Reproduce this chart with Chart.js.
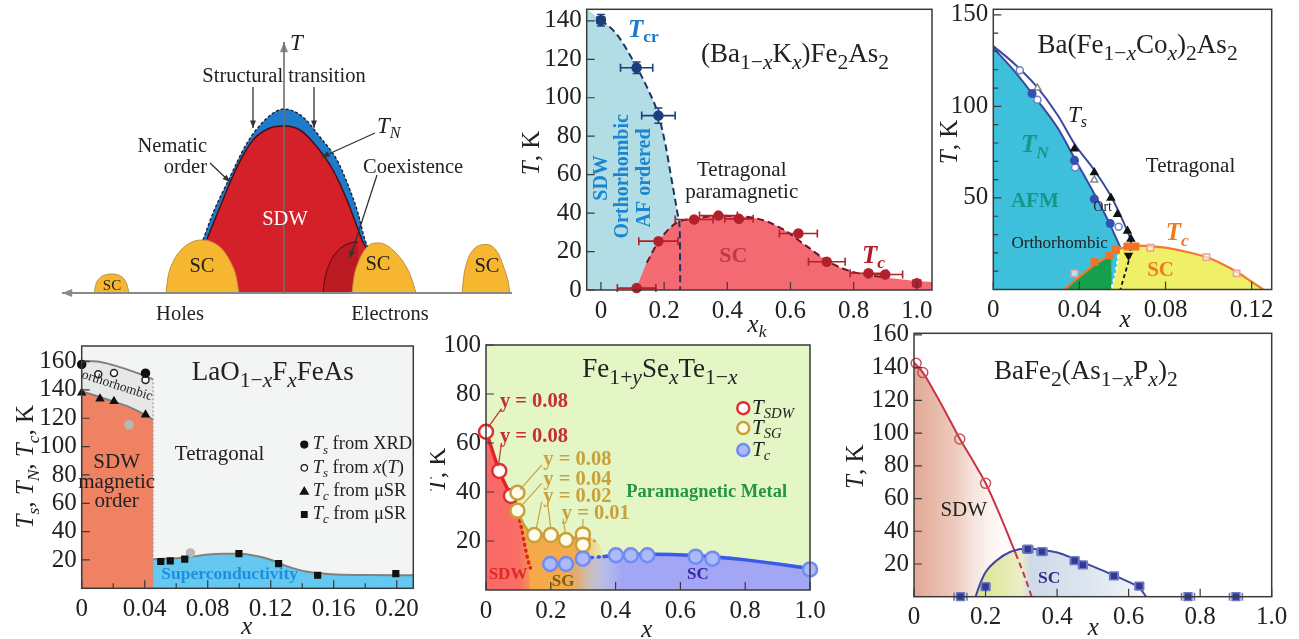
<!DOCTYPE html>
<html>
<head>
<meta charset="utf-8">
<script src="https://cdn.jsdelivr.net/npm/chart.js@4.4.1/dist/chart.umd.min.js"></script>
<style>
  html, body { margin: 0; padding: 0; background: #fff; }
  body { position: relative; width: 1299px; height: 639px; overflow: hidden; }
  canvas { position: absolute; }
</style>
</head>
<body>
<script>
// Iron pnictide phase diagrams - six panels, one Chart.js chart each

// ===== PANEL 1: schematic (x = doping, arbitrary units; y = T, arbitrary) =====
const P1_BLUE = [[-81,53],[-71,80],[-54,116],[-37,150],[-17,175],[0,184],[19,176],[36,156],[53,133],[66,103],[74,80],[81,53],[85,44]];
const P1_RED = [[-77,54],[-64,86],[-47,126],[-31,153],[-14,165],[0,167],[16,163],[33,146],[49,123],[63,93],[71,72],[78,53],[83,44]];
const P1_COEX = [[39,0],[41,15],[45,28],[51,39],[58,46],[66,50],[74,51]];
const P1_SC_A = [[-190,0],[-188,9],[-183,16],[-177,18.5],[-172,19],[-166,18],[-160,14],[-157,8],[-155,0]];
const P1_SC_B = [[-118,0],[-116,16],[-111,31],[-103,43],[-92,51],[-82,53],[-72,51],[-62,44],[-54,32],[-48,17],[-45,0]];
const P1_SC_C = [[68,0],[70,16],[74,30],[80,42],[87,49],[93,50],[100,49],[110,42],[120,30],[127,16],[132,0]];
const P1_SC_D = [[178,0],[180,18],[184,34],[190,44],[197,48],[203,48.5],[209,46],[215,38],[220,25],[224,12],[226,0]];

// ===== PANEL 2: (Ba1-xKx)Fe2As2 =====
const P2_XT = [0, 0.2, 0.4, 0.6, 0.8, 1.0];
const P2_YT = [0, 20, 40, 60, 80, 100, 120, 140];
const P2_TCR = [[0,140.3],[0.113,115.6],[0.182,90.7]];
const P2_TCR_XERR = [0.012, 0.051, 0.053];
const P2_TCR_YERR = [3, 3, 4];
const P2_TC = [[0.113,1],[0.182,25.4],[0.295,36.7],[0.372,38.7],[0.437,37],[0.625,29.4],[0.715,14.7],[0.847,8.7],[0.9,8.1],[1.0,3.5]];
const P2_TC_XERR = [0.061, 0.062, 0.06, 0.06, 0.045, 0.06, 0.058, 0.058, 0.055, 0.012];
const P2_AF = [[-0.045,146],[0,140.5],[0.05,133],[0.113,116],[0.15,104],[0.182,91],[0.205,75],[0.22,61],[0.235,47],[0.245,38],[0.25,28],[0.251,0]];
const P2_SC = [[0.11,0],[0.145,14.2],[0.187,26.3],[0.24,35],[0.295,37],[0.37,38.6],[0.498,37],[0.577,31.5],[0.651,22.8],[0.726,14.2],[0.8,9.3],[0.905,6.4],[1.048,4.1]];

// ===== PANEL 3: Ba(Fe1-xCox)2As2 =====
const P3_XT = [0, 0.04, 0.08, 0.12];
const P3_YT = [50, 100, 150];
const P3_YMINOR = [10, 20, 30, 40, 60, 70, 80, 90, 110, 120, 130, 140];
const P3_TS = [[0,133],[0.01,123],[0.02,111],[0.03,95],[0.038,79],[0.047,65],[0.0546,51],[0.06,38],[0.064,27]];
const P3_TN = [[0,132],[0.01,119],[0.02,104],[0.03,88],[0.038,71],[0.047,52],[0.054,36],[0.059,23]];
const P3_TSD = [[0.064,27],[0.0635,18],[0.061,8],[0.059,0]];
const P3_TC = [[0.033,0],[0.04,7],[0.047,13.5],[0.054,18.5],[0.0585,22],[0.063,23.6],[0.067,24],[0.079,23],[0.09,20.5],[0.099,17.7],[0.107,13.5],[0.113,9.7],[0.119,5],[0.1254,0]];
const P3_GB = [[0.0585,22],[0.057,10],[0.0548,0]];
const P3_TN_FILL = [[0.018,107],[0.0377,70.5],[0.0469,49.4],[0.0543,36]];
const P3_TN_OPEN = [[0.0123,119.7],[0.0205,103.6],[0.038,66.6],[0.0582,34.2]];
const P3_TS_OPEN = [[0.0205,110],[0.0469,59.8]];
const P3_TS_FILL = [[0.0377,76.8],[0.0469,63.9],[0.0546,50],[0.0577,41.1],[0.0623,32],[0.0639,27.6]];
const P3_TS_DOWN = [[0.0628,18.6]];
const P3_TC_FILL = [[0.047,15],[0.054,18.6],[0.057,21.7],[0.0623,23.5],[0.066,23.5]];
const P3_TC_OPEN = [[0.0377,8.8],[0.073,22.8],[0.099,17.7],[0.113,8.8]];

// ===== PANEL 4: LaO1-xFxFeAs =====
const P4_XT = [0, 0.04, 0.08, 0.12, 0.16, 0.20];
const P4_XMINOR = [0.02, 0.06, 0.10, 0.14, 0.18];
const P4_YT = [20, 40, 60, 80, 100, 120, 140, 160];
const P4_TS = [[0,160.5],[0.01,160],[0.02,157.5],[0.03,154],[0.04,150],[0.0453,147.5]];
const P4_TN = [[0,139],[0.01,135.5],[0.02,132],[0.03,128],[0.04,122.5],[0.0453,119]];
const P4_SC = [[0.0453,20.5],[0.0665,21.7],[0.0786,23.7],[0.09,24.4],[0.1,24.3],[0.11,23],[0.119,20.5],[0.1297,15.8],[0.1424,11.8],[0.159,9.9],[0.18,9.4],[0.2105,9.2]];
const P4_EDGE = [[0.0453,0],[0.0453,147.5]];
const P4_XRD = [[0,158],[0.0405,151.8]];
const P4_XT_OPEN = [[0.0105,151],[0.0205,152],[0.0405,147]];
const P4_MUSR_TRI = [[0,138],[0.0116,133.8],[0.0205,132],[0.0405,122.5]];
const P4_GRAY = [[0.030,115.5],[0.069,25]];
const P4_MUSR_SQ = [[0.0502,18.9],[0.0562,19.4],[0.0654,20.6],[0.0998,24.5],[0.125,17.4],[0.1498,9.2],[0.1994,10.4]];

// ===== PANEL 5: Fe1+ySexTe1-x =====
const P5_XT = [0, 0.2, 0.4, 0.6, 0.8, 1.0];
const P5_YT = [20, 40, 60, 80, 100];
const P5_SDW = [[0,64.6],[0.041,48.6],[0.077,38.4]];
const P5_SG = [[0.097,39.7],[0.097,32.4],[0.149,22.4],[0.2,22.4],[0.247,20.4],[0.299,22.7],[0.299,18.4]];
const P5_TC = [[0.198,10.6],[0.247,10.6],[0.299,12.8],[0.401,14.2],[0.447,14.2],[0.498,14.2],[0.647,13.6],[0.699,12.8],[1.0,8.4]];
const P5_SDW_LINE = [[0,65],[0.041,48.6],[0.077,38.4],[0.095,34]];
const P5_SDW_DOT = [[0.095,33],[0.11,25],[0.12,18],[0.13,12],[0.137,9]];
const P5_SG_LINE = [[0.097,32.4],[0.12,26],[0.149,22.4],[0.2,22.4],[0.247,20.6],[0.299,21.5]];
const P5_SG_DOT = [[0.299,21.5],[0.335,20]];
const P5_TC_DOT = [[0.198,10.6],[0.247,10.8],[0.299,12.8],[0.36,13.6]];
const P5_TC_LINE = [[0.36,13.6],[0.401,14.2],[0.5,14.6],[0.65,14],[0.8,12.3],[1.0,8.8]];
const P5_SDW_AREA = [[0,65],[0.041,48.6],[0.077,38.4],[0.095,33],[0.11,25],[0.12,18],[0.13,10],[0.137,0]];
const P5_SG_AREA = [[0.095,36],[0.12,26],[0.149,23.5],[0.2,23.5],[0.25,22],[0.3,22],[0.33,21],[0.36,15],[0.38,0]];
const P5_SC_AREA = [[0.16,9],[0.2,11],[0.3,13],[0.4,14.8],[0.5,15.2],[0.65,14.8],[0.8,13],[1.0,9.5]];

// ===== PANEL 6: BaFe2(As1-xPx)2 =====
const P6_XT = [0, 0.2, 0.4, 0.6, 0.8, 1.0];
const P6_YT = [20, 40, 60, 80, 100, 120, 140, 160];
const P6_SDW = [[0,143],[0.025,137],[0.06,124],[0.1,108],[0.128,96.5],[0.165,83],[0.2,69.5],[0.24,50],[0.284,26.5]];
const P6_SDW_DASH = [[0.284,26.5],[0.31,12],[0.329,0]];
const P6_SC = [[0.172,0],[0.185,8],[0.2,15],[0.23,22],[0.27,27.5],[0.32,29.5],[0.36,28.5],[0.4,27],[0.45,23],[0.5,18.5],[0.56,13],[0.6,9],[0.63,5.5],[0.649,0]];
const P6_CIRC = [[0.006,142.7],[0.0245,137],[0.128,96.4],[0.2,69.3]];
const P6_SQ = [[0.13,0],[0.2,6.1],[0.318,29],[0.358,27.5],[0.449,22],[0.472,19.4],[0.559,12.7],[0.63,6.5],[0.766,0],[0.9,0]];
const P6_SQ_XERR = [0.018, 0.012, 0.014, 0.014, 0.012, 0.012, 0.012, 0.012, 0.018, 0.018];

// ===== HELPERS =====
const SERIF = '"Liberation Serif", "DejaVu Serif", serif';

function xy(a) { return a.map(p => ({ x: p[0], y: p[1] })); }
function fmt(v, d) { return v === 0 ? '0' : v.toFixed(d); }

function area(data, color, extra) {
  return Object.assign({ data: xy(data), fill: 'start', backgroundColor: color, borderColor: 'rgba(0,0,0,0)',
    borderWidth: 0, pointRadius: 0, cubicInterpolationMode: 'monotone' }, extra || {});
}
function curve(data, color, width, extra) {
  return Object.assign({ data: xy(data), fill: false, borderColor: color, borderWidth: width,
    pointRadius: 0, cubicInterpolationMode: 'monotone' }, extra || {});
}
function marks(data, style, fill, border, r, extra) {
  return Object.assign({ data: xy(data), showLine: false, pointStyle: style, pointRadius: r, clip: false,
    pointBackgroundColor: fill, pointBorderColor: border, pointBorderWidth: 1.5 }, extra || {});
}
function hgrad(stops) {
  return (c) => {
    const ch = c.chart, xs = ch.scales.x;
    if (!ch.chartArea || !xs) return 'rgba(0,0,0,0)';
    const x0 = stops[0][0], x1 = stops[stops.length - 1][0];
    const g = ch.ctx.createLinearGradient(xs.getPixelForValue(x0), 0, xs.getPixelForValue(x1), 0);
    stops.forEach(s => g.addColorStop((s[0] - x0) / (x1 - x0), s[1]));
    return g;
  };
}

// rich text: runs are strings or [text, 'i b sub sup']
function drawRich(ctx, t, px, py) {
  const size = t.size || 20;
  const ratio = t.sub || 0.7;
  const parts = t.runs.map(r => {
    const s = Array.isArray(r) ? r[0] : r;
    const f = (Array.isArray(r) ? r[1] || '' : '').split(' ');
    const sub = f.includes('sub'), sup = f.includes('sup');
    const sz = (sub || sup) ? size * ratio : size;
    const font = ((t.italic || f.includes('i')) ? 'italic ' : '') + ((t.bold || f.includes('b')) ? 'bold ' : '') + sz + 'px ' + SERIF;
    ctx.font = font;
    return { s, font, w: ctx.measureText(s).width, dy: sub ? size * 0.3 : sup ? -size * 0.35 : 0 };
  });
  const total = parts.reduce((a, p) => a + p.w, 0);
  ctx.save();
  ctx.translate(px, py);
  if (t.rot) ctx.rotate(t.rot * Math.PI / 180);
  let cx = t.align === 'left' ? 0 : t.align === 'right' ? -total : -total / 2;
  ctx.textBaseline = 'middle';
  ctx.fillStyle = t.color || '#222';
  parts.forEach(p => { ctx.font = p.font; ctx.fillText(p.s, cx, p.dy); cx += p.w; });
  ctx.restore();
}

function marker(ctx, style, x, y, r) {
  ctx.beginPath();
  if (style === 'circle') ctx.arc(x, y, r, 0, 2 * Math.PI);
  else if (style === 'rect') ctx.rect(x - r, y - r, 2 * r, 2 * r);
  else { ctx.moveTo(x, y - r); ctx.lineTo(x + r, y + r * 0.7); ctx.lineTo(x - r, y + r * 0.7); ctx.closePath(); }
  ctx.fill(); ctx.stroke();
}

// ===== PLUGINS =====
const framePlugin = {
  id: 'frame',
  beforeDatasetsDraw(chart) {
    const f = chart.canvas.$cfg.frame;
    if (!f || !f.bg) return;
    const a = chart.chartArea, ctx = chart.ctx;
    ctx.save(); ctx.fillStyle = f.bg;
    ctx.fillRect(a.left, a.top, a.right - a.left, a.bottom - a.top);
    ctx.restore();
  },
  afterDatasetsDraw(chart) {
    const f = chart.canvas.$cfg.frame;
    if (!f) return;
    const a = chart.chartArea, ctx = chart.ctx, xs = chart.scales.x, ys = chart.scales.y;
    ctx.save();
    ctx.strokeStyle = '#3a3a3a'; ctx.lineWidth = 1.5;
    ctx.strokeRect(a.left, a.top, a.right - a.left, a.bottom - a.top);
    ctx.lineWidth = 1.2; ctx.beginPath();
    xs.ticks.forEach(t => { const x = xs.getPixelForValue(t.value); ctx.moveTo(x, a.bottom); ctx.lineTo(x, a.bottom - 8); });
    ys.ticks.forEach(t => { const y = ys.getPixelForValue(t.value); ctx.moveTo(a.left, y); ctx.lineTo(a.left + 8, y); });
    (f.minorX || []).forEach(v => { const x = xs.getPixelForValue(v); ctx.moveTo(x, a.bottom); ctx.lineTo(x, a.bottom - 5); });
    (f.minorY || []).forEach(v => { const y = ys.getPixelForValue(v); ctx.moveTo(a.left, y); ctx.lineTo(a.left + 5, y); });
    ctx.stroke(); ctx.restore();
  }
};

const errPlugin = {
  id: 'errbars',
  beforeDatasetDraw(chart, args) {
    const ds = chart.data.datasets[args.index];
    if (!ds.xErr && !ds.yErr) return;
    const ctx = chart.ctx, xs = chart.scales.x, ys = chart.scales.y;
    ctx.save(); ctx.strokeStyle = ds.errColor || ds.pointBorderColor; ctx.lineWidth = 1.6; ctx.beginPath();
    ds.data.forEach((p, i) => {
      const px = xs.getPixelForValue(p.x), py = ys.getPixelForValue(p.y);
      const ex = ds.xErr && ds.xErr[i], ey = ds.yErr && ds.yErr[i];
      if (ex) {
        const a = xs.getPixelForValue(p.x - ex), b = xs.getPixelForValue(p.x + ex);
        ctx.moveTo(a, py); ctx.lineTo(b, py);
        ctx.moveTo(a, py - 4); ctx.lineTo(a, py + 4); ctx.moveTo(b, py - 4); ctx.lineTo(b, py + 4);
      }
      if (ey) {
        const a = ys.getPixelForValue(p.y - ey), b = ys.getPixelForValue(p.y + ey);
        ctx.moveTo(px, a); ctx.lineTo(px, b);
        ctx.moveTo(px - 4, a); ctx.lineTo(px + 4, a); ctx.moveTo(px - 4, b); ctx.lineTo(px + 4, b);
      }
    });
    ctx.stroke(); ctx.restore();
  }
};

const annotPlugin = {
  id: 'annot',
  afterDatasetsDraw(chart) {
    const o = chart.canvas.$cfg;
    const ctx = chart.ctx, xs = chart.scales.x, ys = chart.scales.y;
    const P = p => [xs.getPixelForValue(p[0]), ys.getPixelForValue(p[1])];
    (o.arrows || []).forEach(a => {
      const [x1, y1] = P(a.from), [x2, y2] = P(a.to);
      ctx.save();
      ctx.strokeStyle = ctx.fillStyle = a.color || '#333';
      ctx.lineWidth = a.width || 1.2;
      ctx.beginPath(); ctx.moveTo(x1, y1); ctx.lineTo(x2, y2); ctx.stroke();
      if (a.head !== 0) {
        const h = a.head || 8, ang = Math.atan2(y2 - y1, x2 - x1);
        ctx.beginPath(); ctx.moveTo(x2, y2);
        ctx.lineTo(x2 - h * Math.cos(ang - 0.38), y2 - h * Math.sin(ang - 0.38));
        ctx.lineTo(x2 - h * Math.cos(ang + 0.38), y2 - h * Math.sin(ang + 0.38));
        ctx.closePath(); ctx.fill();
      }
      ctx.restore();
    });
    (o.marks || []).forEach(m => {
      const [x, y] = P(m.at);
      ctx.save(); ctx.fillStyle = m.fill; ctx.strokeStyle = m.border || m.fill; ctx.lineWidth = m.bw || 1.2;
      marker(ctx, m.style, x, y, m.r);
      ctx.restore();
    });
    (o.texts || []).forEach(t => {
      const pos = t.page ? [t.page[0] - o.off[0], t.page[1] - o.off[1]] : P(t.at);
      drawRich(ctx, t, pos[0], pos[1]);
    });
  }
};

Chart.register(framePlugin, errPlugin, annotPlugin);

// ===== PANEL BUILDER =====
function panel(p) {
  const [L, T, W, H] = p.rect;
  const cv = document.createElement('canvas');
  cv.width = W; cv.height = H;
  cv.style.left = L + 'px'; cv.style.top = T + 'px';
  cv.style.width = W + 'px'; cv.style.height = H + 'px';
  document.body.appendChild(cv);
  cv.$cfg = { off: [L, T], frame: p.frame, texts: p.texts, arrows: p.arrows, marks: p.marks };
  const axes = !!p.box;
  const [fl, ft, fr, fb] = p.box || [L, T, L + W, T + H];
  const n = p.datasets.length;
  p.datasets.forEach((d, i) => { d.order = n - i; });
  const tickFont = { family: SERIF, size: 25 };
  return new Chart(cv, {
    type: 'line',
    data: { datasets: p.datasets },
    options: {
      responsive: false, animation: false, events: [], devicePixelRatio: 1,
      layout: { padding: { left: 0, top: ft - T, right: L + W - fr, bottom: 0 } },
      plugins: { legend: { display: false }, tooltip: { enabled: false } },
      scales: {
        x: {
          type: 'linear', min: p.x[0], max: p.x[1], display: axes,
          grid: { display: false, drawTicks: false }, border: { display: false },
          ticks: { font: tickFont, color: '#222', padding: 6, maxRotation: 0, autoSkip: false,
                   callback: v => fmt(v, p.xd) },
          afterBuildTicks: s => { s.ticks = (p.xt || []).map(v => ({ value: v })); },
          afterFit: s => { s.height = T + H - fb; s.paddingLeft = 0; s.paddingRight = 0; }
        },
        y: {
          type: 'linear', min: p.y[0], max: p.y[1], display: axes,
          grid: { display: false, drawTicks: false }, border: { display: false },
          ticks: { font: tickFont, color: '#222', padding: 5, autoSkip: false,
                   callback: v => fmt(v, 0) },
          afterBuildTicks: s => { s.ticks = (p.yt || []).map(v => ({ value: v })); },
          afterFit: s => { s.width = fl - L; s.paddingTop = 0; s.paddingBottom = 0; }
        }
      }
    }
  });
}

const TK = [['T', 'i'], ', K'];
const TITLE = 27, SUBR = 0.8;
const SC_GOLD = 'rgb(246,182,48)', SC_EDGE = 'rgb(190,145,65)';

// ===== PANEL 1 =====
const F1 = 20.5;
panel({
  rect: [0, 0, 520, 330], x: [-284, 236], y: [-37, 293],
  datasets: [
    area(P1_BLUE, 'rgb(30,122,202)', { fill: 'origin', borderColor: '#1a1a1a', borderWidth: 1.3, borderDash: [3, 2] }),
    area(P1_RED, 'rgb(212,32,40)', { fill: 'origin', borderColor: 'rgb(80,12,14)', borderWidth: 1.5 }),
    area(P1_COEX, 'rgb(188,26,34)', { fill: 'origin', borderColor: 'rgb(80,12,14)', borderWidth: 1 }),
    area(P1_SC_A, SC_GOLD, { fill: 'origin', borderColor: SC_EDGE, borderWidth: 1 }),
    area(P1_SC_B, SC_GOLD, { fill: 'origin', borderColor: SC_EDGE, borderWidth: 1 }),
    area(P1_SC_C, SC_GOLD, { fill: 'origin', borderColor: SC_EDGE, borderWidth: 1 }),
    area(P1_SC_D, SC_GOLD, { fill: 'origin', borderColor: SC_EDGE, borderWidth: 1 })
  ],
  arrows: [
    { from: [228, 0], to: [-222, 0], color: '#8a8a8a', width: 2, head: 11 },
    { from: [0, 0], to: [0, 251], color: 'rgba(110,110,110,0.8)', width: 2, head: 11 },
    { from: [-31, 206], to: [-31, 165], color: '#333', width: 1.3 },
    { from: [30, 206], to: [30, 165], color: '#333', width: 1.3 },
    { from: [-74, 130], to: [-54, 111], color: '#333', width: 1.3 },
    { from: [91, 160], to: [38, 136], color: '#333', width: 1.3 },
    { from: [93, 118], to: [66, 35], color: '#333', width: 1.3 }
  ],
  texts: [
    { at: [6, 249], runs: [['T', 'i']], size: 23, align: 'left' },
    { at: [0, 216], runs: ['Structural transition'], size: F1 },
    { at: [-77, 146], runs: ['Nematic'], size: F1, align: 'right' },
    { at: [-77, 125], runs: ['order'], size: F1, align: 'right' },
    { at: [93, 166], runs: [['T', 'i'], ['N', 'sub i']], size: 23, align: 'left' },
    { at: [79, 125], runs: ['Coexistence'], size: F1, align: 'left' },
    { at: [1, 73], runs: ['SDW'], size: F1, color: '#fff' },
    { at: [-82, 26], runs: ['SC'], size: F1 },
    { at: [94, 28], runs: ['SC'], size: F1 },
    { at: [203, 26], runs: ['SC'], size: F1 },
    { at: [-172, 7], runs: ['SC'], size: 15 },
    { at: [-104, -22], runs: ['Holes'], size: F1 },
    { at: [106, -22], runs: ['Electrons'], size: F1 }
  ]
});

// ===== PANEL 2 =====
panel({
  rect: [520, 0, 435, 345], box: [586.7, 9.3, 932, 290],
  x: [-0.045, 1.048], y: [0, 146], xt: P2_XT, yt: P2_YT, xd: 1,
  frame: {},
  datasets: [
    area(P2_AF, 'rgb(178,221,228)'),
    area(P2_SC, 'rgb(243,106,114)'),
    curve(P2_AF.slice(1), '#1c3566', 2, { borderDash: [7, 4] }),
    curve(P2_SC.slice(1, -1), 'rgb(110,22,32)', 2, { borderDash: [7, 4] }),
    marks(P2_TCR, 'circle', '#1b3d7a', '#1b3d7a', 4.5, { xErr: P2_TCR_XERR, yErr: P2_TCR_YERR }),
    marks(P2_TC, 'circle', '#b3202c', '#b3202c', 4.5, { xErr: P2_TC_XERR })
  ],
  texts: [
    { at: [0.0855, 135.1], runs: [['T', 'i b'], ['cr', 'sub b']], size: 25, color: '#1b7ac8', align: 'left' },
    { at: [0.6145, 122.2], runs: ['(Ba', ['1−', 'sub'], ['x', 'sub i'], 'K', ['x', 'sub i'], ')Fe', ['2', 'sub'], 'As', ['2', 'sub']], size: TITLE, sub: SUBR },
    { at: [0.002, 58.3], runs: ['SDW'], size: 20, bold: true, color: '#1b86d0', rot: -90 },
    { at: [0.0707, 59.1], runs: ['Orthorhombic'], size: 20, bold: true, color: '#1b86d0', rot: -90 },
    { at: [0.139, 58.3], runs: ['AF ordered'], size: 20, bold: true, color: '#1b86d0', rot: -90 },
    { at: [0.4457, 62.2], runs: ['Tetragonal'], size: 21 },
    { at: [0.4457, 50.8], runs: ['paramagnetic'], size: 21 },
    { at: [0.419, 17.6], runs: ['SC'], size: 22, bold: true, color: 'rgba(178,50,60,0.85)' },
    { at: [0.8626, 17.6], runs: [['T', 'i b'], ['c', 'sub i b']], size: 25, color: '#ad1e2a' },
    { page: [532, 153], runs: TK, size: 25, rot: -90 },
    { page: [757, 325], runs: [['x', 'i'], ['k', 'sub i']], size: 25 }
  ]
});

// ===== PANEL 3 =====
panel({
  rect: [940, 0, 359, 335], box: [993.3, 9.3, 1271.7, 289.5],
  x: [0, 0.1293], y: [0, 153], xt: P3_XT, yt: P3_YT, xd: 2,
  frame: { minorY: P3_YMINOR },
  datasets: [
    area(P3_TN, 'rgb(62,192,220)'),
    area(P3_TC.slice(0, 5).concat(P3_GB.slice(1)), 'rgb(22,160,76)', { cubicInterpolationMode: 'default', tension: 0.2 }),
    area(P3_GB.slice().reverse().concat(P3_TC.slice(5)), 'rgb(240,240,104)', { cubicInterpolationMode: 'default', tension: 0.2 }),
    curve(P3_TN, '#3a4aa0', 2),
    curve(P3_TS, '#3a4aa0', 2),
    curve(P3_TC, '#f07a30', 2.2),
    curve(P3_TSD, '#111', 1.8, { borderDash: [4, 3], cubicInterpolationMode: 'default', tension: 0 }),
    curve(P3_GB, '#ffffff', 2, { borderDash: [3, 3], cubicInterpolationMode: 'default', tension: 0 }),
    marks(P3_TN_OPEN, 'circle', '#ffffff', '#6d82c8', 3.5),
    marks(P3_TS_OPEN, 'triangle', '#ffffff', '#888', 4),
    marks(P3_TN_FILL, 'circle', '#3450b0', '#3450b0', 3.8),
    marks(P3_TS_FILL, 'triangle', '#111', '#111', 4),
    marks(P3_TS_DOWN, 'triangle', '#111', '#111', 4, { pointRotation: 180 }),
    marks(P3_TC_OPEN, 'rect', 'rgba(255,255,255,0.6)', '#e8a0a0', 4.5),
    marks(P3_TC_FILL, 'rect', '#f07428', '#f07428', 4.5)
  ],
  texts: [
    { at: [0.067, 133], runs: ['Ba(Fe', ['1−', 'sub'], ['x', 'sub i'], 'Co', ['x', 'sub i'], ')', ['2', 'sub'], 'As', ['2', 'sub']], size: TITLE, sub: SUBR },
    { at: [0.0347, 94.7], runs: [['T', 'i'], ['s', 'sub i']], size: 23, align: 'left' },
    { at: [0.0193, 78.6], runs: [['T', 'i b'], ['N', 'sub i b']], size: 25, color: '#17968a' },
    { at: [0.0916, 66.9], runs: ['Tetragonal'], size: 21 },
    { at: [0.0193, 48.1], runs: ['AFM'], size: 21, bold: true, color: '#17968a' },
    { at: [0.0508, 44.6], runs: ['Ort'], size: 14 },
    { at: [0.0308, 24.9], runs: ['Orthorhombic'], size: 17 },
    { at: [0.0854, 30.3], runs: [['T', 'i b'], ['c', 'sub i b']], size: 25, color: '#f07a20' },
    { at: [0.0777, 10.6], runs: ['SC'], size: 21, bold: true, color: '#f07a20' },
    { page: [950, 142], runs: TK, size: 25, rot: -90 },
    { page: [1125, 320], runs: [['x', 'i']], size: 25 }
  ]
});

// ===== PANEL 4 =====
panel({
  rect: [0, 335, 430, 304], box: [81.7, 346, 413.3, 588.3],
  x: [0, 0.2105], y: [0, 171], xt: P4_XT, yt: P4_YT, xd: 2,
  frame: { bg: 'rgb(243,244,244)', minorX: P4_XMINOR },
  datasets: [
    area(P4_TS, 'rgb(230,231,231)'),
    area(P4_TN, 'rgb(240,130,100)'),
    area(P4_SC, 'rgb(100,200,240)'),
    curve(P4_TS, '#808080', 2),
    curve(P4_TN, '#808080', 2),
    curve(P4_SC, '#808080', 2),
    curve(P4_EDGE, '#9a9a9a', 1.2, { borderDash: [2, 2], cubicInterpolationMode: 'default', tension: 0 }),
    marks(P4_GRAY, 'circle', '#b8b8b8', '#b8b8b8', 4),
    marks(P4_XT_OPEN, 'circle', '#ffffff', '#222', 3.5),
    marks(P4_XRD, 'circle', '#111', '#111', 4),
    marks(P4_MUSR_TRI, 'triangle', '#111', '#111', 4),
    marks(P4_MUSR_SQ, 'rect', '#111', '#111', 4)
  ],
  marks: [
    { at: [0.1413, 101.4], style: 'circle', r: 3.5, fill: '#111' },
    { at: [0.1413, 85], style: 'circle', r: 3.2, fill: '#fff', border: '#111' },
    { at: [0.1413, 68.5], style: 'triangle', r: 4, fill: '#111' },
    { at: [0.1413, 52.1], style: 'rect', r: 2.8, fill: '#111' }
  ],
  texts: [
    { at: [0.1213, 151.9], runs: ['LaO', ['1−', 'sub'], ['x', 'sub i'], 'F', ['x', 'sub i'], 'FeAs'], size: TITLE, sub: SUBR },
    { at: [0.0225, 143], runs: ['orthorhombic'], size: 13.5, rot: 18 },
    { at: [0.0222, 88.5], runs: ['SDW'], size: 21 },
    { at: [0.0222, 74.4], runs: ['magnetic'], size: 21 },
    { at: [0.0222, 61.5], runs: ['order'], size: 21 },
    { at: [0.0875, 94.4], runs: ['Tetragonal'], size: 21 },
    { at: [0.0939, 9.9], runs: ['Superconductivity'], size: 17.5, bold: true, color: '#1e8fe0' },
    { at: [0.1466, 101.4], runs: [['T', 'i'], ['s', 'sub i'], ' from XRD'], size: 18.5, align: 'left' },
    { at: [0.1466, 85], runs: [['T', 'i'], ['s', 'sub i'], ' from ', ['x', 'i'], '(', ['T', 'i'], ')'], size: 18.5, align: 'left' },
    { at: [0.1466, 68.5], runs: [['T', 'i'], ['c', 'sub i'], ' from μSR'], size: 18.5, align: 'left' },
    { at: [0.1466, 52.1], runs: [['T', 'i'], ['c', 'sub i'], ' from μSR'], size: 18.5, align: 'left' },
    { page: [26.7, 466.7], runs: [['T', 'i'], ['s', 'sub i'], ', ', ['T', 'i'], ['N', 'sub i'], ', ', ['T', 'i'], ['c', 'sub i'], ', K'], size: 25, rot: -90 },
    { page: [246.7, 627], runs: [['x', 'i']], size: 25 }
  ]
});

// ===== PANEL 5 =====
const RED5 = '#c43030', GOLD5 = '#c9a13a';
panel({
  rect: [430, 335, 410, 304], box: [486, 345, 810, 590],
  x: [0, 1], y: [0, 100], xt: P5_XT, yt: P5_YT, xd: 1,
  frame: { bg: 'rgb(228,246,198)' },
  datasets: [
    area(P5_SG_AREA, hgrad([[0.09, 'rgb(245,168,72)'], [0.28, 'rgb(245,172,75)'], [0.38, 'rgba(240,200,120,0)']])),
    area(P5_SC_AREA, hgrad([[0.24, 'rgba(160,165,245,0)'], [0.42, 'rgb(162,166,245)'], [1.0, 'rgb(162,166,245)']])),
    area(P5_SDW_AREA, hgrad([[0, 'rgb(250,104,104)'], [0.1, 'rgb(248,110,100)'], [0.14, 'rgb(245,150,85)']])),
    curve(P5_SDW_LINE, '#e02424', 3.5),
    curve(P5_SDW_DOT, '#e02424', 3.5, { borderDash: [1, 5], borderCapStyle: 'round' }),
    curve(P5_SG_LINE, GOLD5, 2.5),
    curve(P5_SG_DOT, GOLD5, 3, { borderDash: [1, 5], borderCapStyle: 'round' }),
    curve(P5_TC_DOT, '#3a5ae8', 3.5, { borderDash: [1, 6], borderCapStyle: 'round' }),
    curve(P5_TC_LINE, '#3a5ae8', 3.5),
    marks(P5_SDW, 'circle', '#ffffff', '#e03030', 7, { pointBorderWidth: 2.5 }),
    marks(P5_SG, 'circle', '#fffbe8', GOLD5, 7, { pointBorderWidth: 2.5 }),
    marks(P5_TC, 'circle', 'rgb(172,186,250)', '#6f8cf2', 7, { pointBorderWidth: 2.5 })
  ],
  arrows: [
    { from: [0.048, 74], to: [0.007, 66.5], color: RED5, width: 1.2, head: 0 },
    { from: [0.048, 60], to: [0.038, 50.5], color: RED5, width: 1.2, head: 0 },
    { from: [0.172, 51], to: [0.105, 41], color: GOLD5, width: 1.2, head: 0 },
    { from: [0.172, 43.5], to: [0.107, 34], color: GOLD5, width: 1.2, head: 0 },
    { from: [0.172, 36], to: [0.155, 25], color: GOLD5, width: 1.2, head: 0 },
    { from: [0.19, 36], to: [0.2, 25], color: GOLD5, width: 1.2, head: 0 },
    { from: [0.238, 29], to: [0.245, 23], color: GOLD5, width: 1.2, head: 0 },
    { from: [0.299, 29], to: [0.299, 25.5], color: GOLD5, width: 1.2, head: 0 }
  ],
  marks: [
    { at: [0.794, 74.2], style: 'circle', r: 6, fill: '#fff', border: '#e03030', bw: 2.5 },
    { at: [0.794, 66.1], style: 'circle', r: 6, fill: '#fffbe8', border: GOLD5, bw: 2.5 },
    { at: [0.794, 57.1], style: 'circle', r: 6, fill: 'rgb(172,186,250)', border: '#6f8cf2', bw: 2.5 }
  ],
  texts: [
    { at: [0.537, 89.8], runs: ['Fe', ['1+', 'sub'], ['y', 'sub i'], 'Se', ['x', 'sub i'], 'Te', ['1−', 'sub'], ['x', 'sub i']], size: TITLE, sub: SUBR },
    { at: [0.043, 76.7], runs: ['y = 0.08'], size: 20.5, bold: true, color: RED5, align: 'left' },
    { at: [0.043, 62.6], runs: ['y = 0.08'], size: 20.5, bold: true, color: RED5, align: 'left' },
    { at: [0.177, 53], runs: ['y = 0.08'], size: 20.5, bold: true, color: GOLD5, align: 'left' },
    { at: [0.177, 45.2], runs: ['y = 0.04'], size: 20.5, bold: true, color: GOLD5, align: 'left' },
    { at: [0.177, 38.1], runs: ['y = 0.02'], size: 20.5, bold: true, color: GOLD5, align: 'left' },
    { at: [0.234, 31.3], runs: ['y = 0.01'], size: 20.5, bold: true, color: GOLD5, align: 'left' },
    { at: [0.681, 40.1], runs: ['Paramagnetic Metal'], size: 18.5, bold: true, color: 'rgb(34,150,64)' },
    { at: [0.821, 74.2], runs: [['T', 'i'], ['SDW', 'sub i']], size: 21, align: 'left' },
    { at: [0.821, 66.1], runs: [['T', 'i'], ['SG', 'sub i']], size: 21, align: 'left' },
    { at: [0.821, 57.1], runs: [['T', 'i'], ['c', 'sub i']], size: 21, align: 'left' },
    { at: [0.068, 6.1], runs: ['SDW'], size: 17, bold: true, color: 'rgb(222,40,40)' },
    { at: [0.238, 3.3], runs: ['SG'], size: 17, bold: true, color: 'rgb(120,96,20)' },
    { at: [0.654, 6.1], runs: ['SC'], size: 17, bold: true, color: 'rgb(50,40,160)' },
    { page: [438, 470], runs: TK, size: 25, rot: -90 },
    { page: [646.7, 630], runs: [['x', 'i']], size: 25 }
  ]
});

// ===== PANEL 6 =====
panel({
  rect: [840, 315, 459, 324], box: [914, 333.3, 1271.7, 596.7],
  x: [0, 1], y: [0, 161], xt: P6_XT, yt: P6_YT, xd: 1,
  frame: {},
  datasets: [
    area(P6_SDW.concat(P6_SDW_DASH.slice(1)), hgrad([[0, 'rgb(226,168,148)'], [0.12, 'rgb(238,205,192)'], [0.3, 'rgba(255,255,255,0)']])),
    area(P6_SC, hgrad([[0.17, 'rgb(220,228,135)'], [0.3, 'rgb(236,238,200)'], [0.325, 'rgb(206,218,232)'], [0.5, 'rgb(222,230,240)'], [0.65, 'rgb(245,247,250)']])),
    curve(P6_SDW, 'rgb(200,52,72)', 2),
    curve(P6_SDW_DASH, 'rgb(200,52,72)', 2, { borderDash: [6, 4] }),
    curve(P6_SC, 'rgb(62,72,160)', 2),
    marks(P6_CIRC, 'circle', 'rgba(255,255,255,0)', 'rgb(205,80,90)', 5),
    marks(P6_SQ, 'rect', 'rgb(48,58,150)', 'rgb(110,120,190)', 5.5, { xErr: P6_SQ_XERR, errColor: 'rgb(110,120,190)' })
  ],
  texts: [
    { at: [0.4805, 137.5], runs: ['BaFe', ['2', 'sub'], '(As', ['1−', 'sub'], ['x', 'sub i'], 'P', ['x', 'sub i'], ')', ['2', 'sub']], size: TITLE, sub: SUBR },
    { at: [0.139, 53], runs: ['SDW'], size: 21 },
    { at: [0.378, 11.4], runs: ['SC'], size: 17.5, bold: true, color: 'rgb(45,45,140)' },
    { page: [856.7, 466.7], runs: TK, size: 25, rot: -90 },
    { page: [1093.3, 628], runs: [['x', 'i']], size: 25 }
  ]
});
</script>
</body>
</html>
